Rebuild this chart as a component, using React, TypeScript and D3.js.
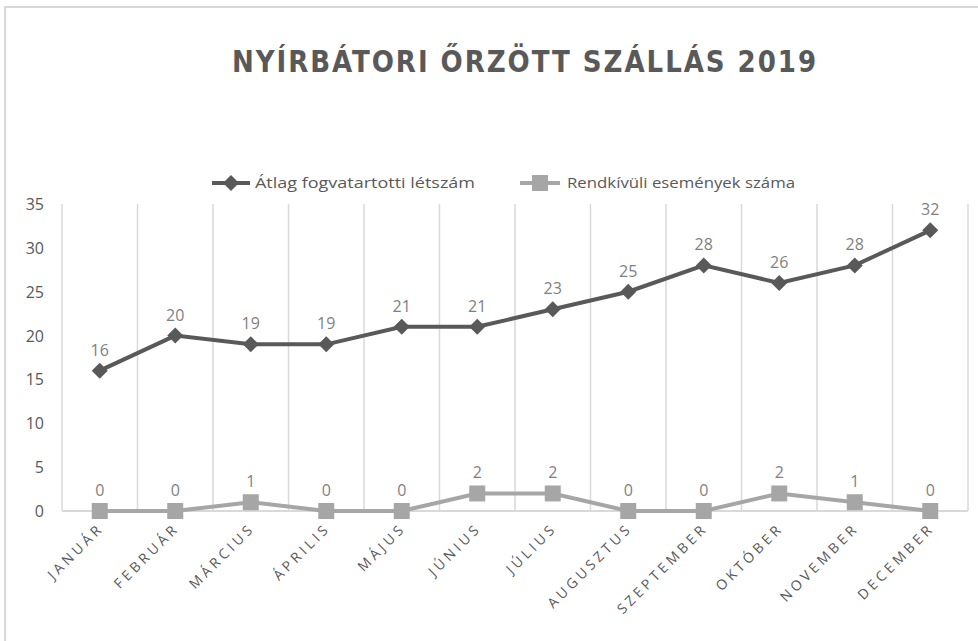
import React, { useEffect, useRef } from "react";
import * as d3 from "d3";

const months = [
  "JANUÁR", "FEBRUÁR", "MÁRCIUS", "ÁPRILIS", "MÁJUS", "JÚNIUS",
  "JÚLIUS", "AUGUSZTUS", "SZEPTEMBER", "OKTÓBER", "NOVEMBER", "DECEMBER",
];
const avgInmates = [16, 20, 19, 19, 21, 21, 23, 25, 28, 26, 28, 32];
const incidents = [0, 0, 1, 0, 0, 2, 2, 0, 0, 2, 1, 0];
const yTicks = [0, 5, 10, 15, 20, 25, 30, 35];
const seriesNames = ["Átlag fogvatartotti létszám", "Rendkívüli események száma"];
const title = "NYÍRBÁTORI ŐRZÖTT SZÁLLÁS 2019";

const W = 978;
const H = 641;
const font = "'Open Sans', 'DejaVu Sans', sans-serif";

export default function App() {
  const ref = useRef<SVGSVGElement>(null);

  useEffect(() => {
    const svg = d3.select(ref.current);
    svg.selectAll("*").remove();

    // outer frame
    svg.append("rect")
      .attr("x", 5).attr("y", 7).attr("width", W - 4).attr("height", H - 4)
      .attr("fill", "#fff").attr("stroke", "#d9d9d9").attr("stroke-width", 2);

    svg.append("text")
      .attr("x", 525).attr("y", 72)
      .attr("text-anchor", "middle")
      .attr("font-family", "'DejaVu Sans Condensed', 'DejaVu Sans', sans-serif")
      .attr("font-weight", "bold")
      .attr("font-size", 30)
      .attr("letter-spacing", 2)
      .attr("textLength", 586)
      .attr("lengthAdjust", "spacingAndGlyphs")
      .attr("fill", "#595959")
      .text(title);

    const left = 62, right = 968, top = 204, bottom = 511;
    const x = d3.scaleBand().domain(months).range([left, right]);
    const y = d3.scaleLinear().domain([0, 35]).range([bottom, top]);
    const cx = (i: number) => (x(months[i]) as number) + x.bandwidth() / 2;

    // vertical category gridlines
    const bounds = months.map((m) => x(m) as number).concat([right]);
    svg.selectAll(".vg").data(bounds).enter().append("line")
      .attr("x1", (d) => d).attr("x2", (d) => d)
      .attr("y1", top).attr("y2", bottom)
      .attr("stroke", "#d9d9d9").attr("stroke-width", 1.5);

    svg.append("line")
      .attr("x1", left).attr("x2", right).attr("y1", bottom).attr("y2", bottom)
      .attr("stroke", "#d9d9d9").attr("stroke-width", 2);

    // y labels
    svg.selectAll(".yl").data(yTicks).enter().append("text")
      .attr("x", 44).attr("y", (d) => y(d) + 6)
      .attr("text-anchor", "end")
      .attr("font-family", font).attr("font-size", 16)
      .attr("fill", "#595959")
      .text((d) => d);

    // x labels
    svg.selectAll(".xl").data(months).enter().append("text")
      .attr("transform", (d, i) => `translate(${cx(i) + 5},${bottom + 18}) rotate(-45)`)
      .attr("text-anchor", "end")
      .attr("font-family", font).attr("font-size", 14)
      .attr("letter-spacing", 3.6)
      .attr("fill", "#595959")
      .text((d) => d);

    const line = d3.line<number>().x((d, i) => cx(i)).y((d) => y(d));

    // series 2 (light)
    svg.append("path").datum(incidents)
      .attr("fill", "none").attr("stroke", "#a6a6a6").attr("stroke-width", 4)
      .attr("d", line);
    svg.selectAll(".sq").data(incidents).enter().append("rect")
      .attr("x", (d, i) => cx(i) - 8).attr("y", (d) => y(d) - 8)
      .attr("width", 16).attr("height", 16)
      .attr("fill", "#a6a6a6");

    // series 1 (dark)
    svg.append("path").datum(avgInmates)
      .attr("fill", "none").attr("stroke", "#595959").attr("stroke-width", 4)
      .attr("d", line);
    const diamond = "M0,-8L8,0L0,8L-8,0Z";
    svg.selectAll(".dm").data(avgInmates).enter().append("path")
      .attr("transform", (d, i) => `translate(${cx(i)},${y(d)})`)
      .attr("d", diamond)
      .attr("fill", "#595959");

    // data labels
    svg.selectAll(".l1").data(avgInmates).enter().append("text")
      .attr("x", (d, i) => cx(i)).attr("y", (d) => y(d) - 15)
      .attr("text-anchor", "middle")
      .attr("font-family", font).attr("font-size", 16)
      .attr("fill", "#7f7f7f")
      .text((d) => d);
    svg.selectAll(".l2").data(incidents).enter().append("text")
      .attr("x", (d, i) => cx(i)).attr("y", (d) => y(d) - 15)
      .attr("text-anchor", "middle")
      .attr("font-family", font).attr("font-size", 16)
      .attr("fill", "#7f7f7f")
      .text((d) => d);

    // legend
    const lg = svg.append("g").attr("font-family", font).attr("font-size", 15).attr("fill", "#595959");
    lg.append("line").attr("x1", 212).attr("x2", 250).attr("y1", 183).attr("y2", 183)
      .attr("stroke", "#595959").attr("stroke-width", 4);
    lg.append("path").attr("transform", "translate(231,183)").attr("d", diamond).attr("fill", "#595959");
    lg.append("text").attr("x", 255).attr("y", 188)
      .attr("textLength", 220).attr("lengthAdjust", "spacingAndGlyphs")
      .text(seriesNames[0]);
    lg.append("line").attr("x1", 520).attr("x2", 560).attr("y1", 183).attr("y2", 183)
      .attr("stroke", "#a6a6a6").attr("stroke-width", 4);
    lg.append("rect").attr("x", 532).attr("y", 175).attr("width", 16).attr("height", 16).attr("fill", "#a6a6a6");
    lg.append("text").attr("x", 567).attr("y", 188)
      .attr("textLength", 228).attr("lengthAdjust", "spacingAndGlyphs")
      .text(seriesNames[1]);
  }, []);

  return (
    <div style={{ position: "absolute", left: 0, top: 0 }}>
      <svg ref={ref} width={W} height={H} />
    </div>
  );
}
